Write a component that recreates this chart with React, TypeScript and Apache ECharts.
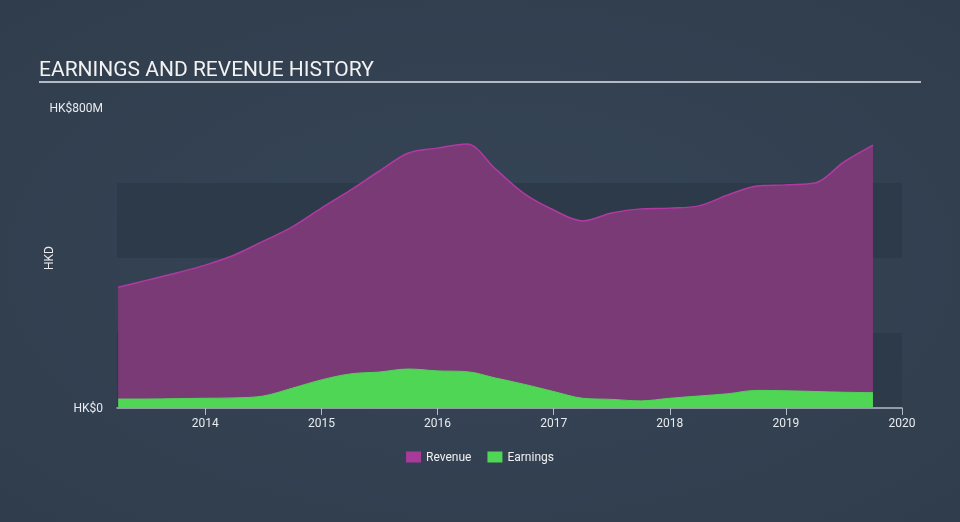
import React, { useEffect, useRef } from "react";
import * as echarts from "echarts";

const quarters = [
  2013.25, 2013.5, 2013.75, 2014.0, 2014.25, 2014.5, 2014.75, 2015.0, 2015.25, 2015.5,
  2015.75, 2016.0, 2016.25, 2016.5, 2016.75, 2017.0, 2017.25, 2017.5, 2017.75, 2018.0,
  2018.25, 2018.5, 2018.75, 2019.0, 2019.25, 2019.5, 2019.75,
];
const revenue = [
  322, 341, 360, 381, 408, 445, 483, 533, 581, 632,
  680, 693, 704, 637, 571, 528, 499, 520, 531, 533,
  539, 568, 592, 595, 600, 656, 701,
];
const earnings = [
  24, 24, 25, 26, 27, 32, 53, 75, 91, 96,
  104, 99, 97, 80, 63, 44, 26, 23, 19, 26,
  32, 38, 47, 46, 44, 42, 41,
];
const yearTicks = [2014, 2015, 2016, 2017, 2018, 2019, 2020];
const yLabels: Record<number, string> = { 0: "HK$0", 800: "HK$800M" };
const seriesNames = ["Revenue", "Earnings"];

export default function App() {
  const ref = useRef<HTMLDivElement>(null);
  useEffect(() => {
    if (!ref.current) return;
    const chart = echarts.init(ref.current, null, { renderer: "svg" });
    const revData = quarters.map((q, i) => [q, revenue[i]]);
    const earnData = quarters.map((q, i) => [q, earnings[i]]);
    chart.setOption({
      animation: false,
      backgroundColor: {
        type: "radial",
        x: 0.5,
        y: 0.5,
        r: 0.8,
        colorStops: [
          { offset: 0, color: "#364557" },
          { offset: 1, color: "#2f3c4b" },
        ],
      },
      textStyle: { fontFamily: "Roboto" },
      title: {
        text: "EARNINGS AND REVENUE HISTORY",
        left: 34,
        top: 53,
        textStyle: { color: "#f2f2f2", fontSize: 21, fontWeight: "normal", fontFamily: "Roboto" },
      },
      graphic: [
        {
          type: "line",
          shape: { x1: 39, y1: 82, x2: 921, y2: 82 },
          style: { stroke: "#b4bac3", lineWidth: 2 },
        },
      ],
      legend: {
        data: seriesNames,
        bottom: 54,
        left: "center",
        itemWidth: 15,
        itemHeight: 11,
        itemGap: 16,
        icon: "rect",
        textStyle: { color: "#f0f0f0", fontSize: 12, fontFamily: "Roboto" },
      },
      grid: { left: 117, right: 58, top: 108, bottom: 114, containLabel: false },
      xAxis: {
        type: "value",
        min: 2013.24,
        max: 2020,
        axisLine: { show: true, lineStyle: { color: "#b4bac3", width: 1.5 } },
        axisTick: {
          show: true,
          customValues: yearTicks,
          length: 7,
          lineStyle: { color: "#b4bac3" },
        },
        axisLabel: {
          customValues: yearTicks,
          formatter: (v: number) => String(Math.round(v)),
          color: "#e8ebef",
          fontSize: 12,
          margin: 9,
        },
        splitLine: { show: false },
      },
      yAxis: {
        type: "value",
        min: 0,
        max: 800,
        interval: 200,
        name: "HKD",
        nameLocation: "middle",
        nameGap: 62,
        nameMoveOverlap: false,
        nameRotate: 90,
        nameTextStyle: { color: "#e8ebef", fontSize: 12 },
        axisLine: { show: false },
        axisTick: { show: false },
        axisLabel: {
          formatter: (v: number) => yLabels[v] ?? "",
          color: "#e8ebef",
          fontSize: 12,
          margin: 14,
        },
        splitLine: { show: false },
        splitArea: {
          show: true,
          areaStyle: { color: ["#2d3a49", "rgba(0,0,0,0)"] },
        },
      },
      series: [
        {
          name: seriesNames[0],
          type: "line",
          data: revData,
          smooth: 0.35,
          showSymbol: false,
          lineStyle: { color: "#b03aa2", width: 1.5 },
          itemStyle: { color: "#a83a9a" },
          areaStyle: { color: "#7a3a76", opacity: 1 },
          z: 2,
        },
        {
          name: seriesNames[1],
          type: "line",
          data: earnData,
          smooth: 0.35,
          showSymbol: false,
          lineStyle: { color: "#4fd655", width: 1 },
          itemStyle: { color: "#4fd655" },
          areaStyle: { color: "#4fd655", opacity: 1 },
          z: 3,
        },
      ],
    });
    return () => chart.dispose();
  }, []);
  return (
    <div
      ref={ref}
      style={{ position: "fixed", left: 0, top: 0, width: 960, height: 522 }}
    />
  );
}
